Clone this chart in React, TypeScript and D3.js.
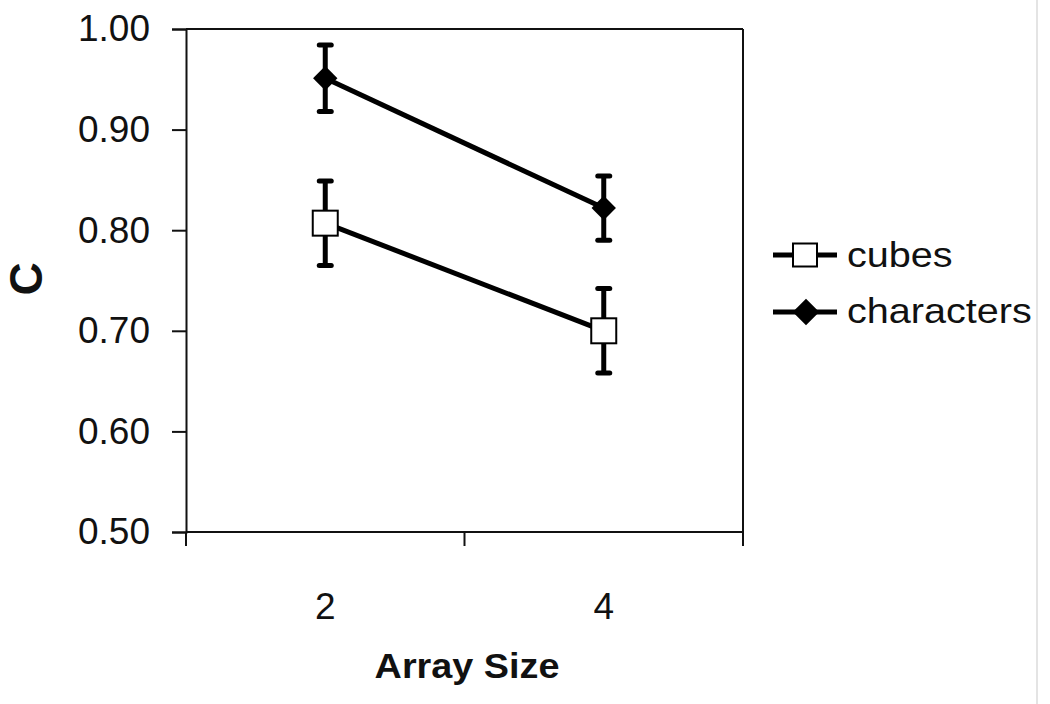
import React, { useEffect, useRef } from 'react';
import * as d3 from 'd3';

// values
const arraySizes = ['2', '4'];
const cubesMean = [0.807, 0.70];
const cubesErr = [0.042, 0.042];
const charsMean = [0.951, 0.822];
const charsErr = [0.033, 0.032];
const yTicks = [0.5, 0.6, 0.7, 0.8, 0.9, 1.0];
const seriesNames = ['cubes', 'characters'];

const FONT = '"Liberation Sans", Arial, sans-serif';

export default function App() {
  const ref = useRef<SVGSVGElement>(null);

  useEffect(() => {
    const svg = d3.select(ref.current);
    svg.selectAll('*').remove();

    const left = 186, right = 743, top = 29, bottom = 532;

    const x = d3.scaleBand().domain(arraySizes).range([left, right]);
    const y = d3.scaleLinear().domain([0.5, 1.0]).range([bottom, top]);

    // faint outer border at the right
    svg.append('line')
      .attr('x1', 1037).attr('x2', 1037).attr('y1', 0).attr('y2', 704)
      .attr('stroke', '#e4e4e4').attr('stroke-width', 2);

    // frame top and right
    svg.append('line')
      .attr('x1', left).attr('x2', right).attr('y1', top).attr('y2', top)
      .attr('stroke', '#111').attr('stroke-width', 2);
    svg.append('line')
      .attr('x1', right).attr('x2', right).attr('y1', top).attr('y2', bottom)
      .attr('stroke', '#111').attr('stroke-width', 2);

    // y axis
    const yAxis = d3.axisLeft(y)
      .tickValues(yTicks)
      .tickSize(14)
      .tickPadding(22)
      .tickFormat(d3.format('.2f'));
    const gy = svg.append('g')
      .attr('transform', 'translate(' + left + ',0)')
      .call(yAxis);
    gy.select('.domain').attr('stroke', '#111').attr('stroke-width', 2);
    gy.selectAll('.tick line').attr('stroke', '#111').attr('stroke-width', 2);
    gy.selectAll('.tick text')
      .attr('font-family', FONT).attr('font-size', 37).attr('fill', '#111');

    // x axis: line plus boundary ticks
    svg.append('line')
      .attr('x1', left).attr('x2', right).attr('y1', bottom).attr('y2', bottom)
      .attr('stroke', '#111').attr('stroke-width', 2);
    const edges = arraySizes.map(d => x(d) as number).concat([right]);
    svg.selectAll('.xtick').data(edges).enter().append('line')
      .attr('x1', d => d).attr('x2', d => d)
      .attr('y1', bottom).attr('y2', bottom + 14)
      .attr('stroke', '#111').attr('stroke-width', 2);
    svg.selectAll('.xlabel').data(arraySizes).enter().append('text')
      .attr('x', d => (x(d) as number) + x.bandwidth() / 2)
      .attr('y', 619)
      .attr('text-anchor', 'middle')
      .attr('font-family', FONT).attr('font-size', 37).attr('fill', '#111')
      .text(d => d);

    // axis titles
    svg.append('text')
      .attr('transform', 'translate(467,678) scale(1.08,1)')
      .attr('text-anchor', 'middle')
      .attr('font-family', FONT).attr('font-size', 35).attr('font-weight', 'bold')
      .attr('fill', '#111')
      .text('Array Size');
    svg.append('text')
      .attr('transform', 'translate(42,279) rotate(-90)')
      .attr('text-anchor', 'middle')
      .attr('font-family', FONT).attr('font-size', 46).attr('font-weight', 'bold')
      .attr('fill', '#111')
      .text('C');

    const cx = (d: string) => (x(d) as number) + x.bandwidth() / 2;

    const drawSeries = (means: number[], errs: number[], marker: string) => {
      const pts = arraySizes.map((d, i) => ({ k: d, m: means[i], e: errs[i] }));
      const line = d3.line<any>().x(p => cx(p.k)).y(p => y(p.m));
      svg.append('path').datum(pts)
        .attr('d', line)
        .attr('fill', 'none').attr('stroke', '#000').attr('stroke-width', 5);

      const g = svg.append('g');
      pts.forEach(p => {
        g.append('line')
          .attr('x1', cx(p.k)).attr('x2', cx(p.k))
          .attr('y1', y(p.m + p.e)).attr('y2', y(p.m - p.e))
          .attr('stroke', '#000').attr('stroke-width', 5);
        [p.m + p.e, p.m - p.e].forEach(v => {
          g.append('line')
            .attr('x1', cx(p.k) - 6).attr('x2', cx(p.k) + 6)
            .attr('y1', y(v)).attr('y2', y(v))
            .attr('stroke', '#000').attr('stroke-width', 5)
            .attr('stroke-linecap', 'round');
        });
      });

      if (marker == 'square') {
        g.selectAll('.sq').data(pts).enter().append('rect')
          .attr('x', p => cx(p.k) - 12.5).attr('y', p => y(p.m) - 12.5)
          .attr('width', 25).attr('height', 25)
          .attr('fill', '#fff').attr('stroke', '#000').attr('stroke-width', 2);
      } else {
        const sym = d3.symbol().type(d3.symbolDiamond2).size(380);
        g.selectAll('.dm').data(pts).enter().append('path')
          .attr('d', sym)
          .attr('transform', p => 'translate(' + cx(p.k) + ',' + y(p.m) + ')')
          .attr('fill', '#000');
      }
    };

    drawSeries(cubesMean, cubesErr, 'square');
    drawSeries(charsMean, charsErr, 'diamond');

    // legend
    const legY = [255, 312];
    seriesNames.forEach((name, i) => {
      const g = svg.append('g').attr('transform', 'translate(0,' + legY[i] + ')');
      g.append('line')
        .attr('x1', 773).attr('x2', 837).attr('y1', 0).attr('y2', 0)
        .attr('stroke', '#000').attr('stroke-width', 5);
      if (i == 0) {
        g.append('rect')
          .attr('x', 793).attr('y', -11.5).attr('width', 24).attr('height', 23)
          .attr('fill', '#fff').attr('stroke', '#000').attr('stroke-width', 2);
      } else {
        g.append('path')
          .attr('d', d3.symbol().type(d3.symbolDiamond2).size(450))
          .attr('transform', 'translate(806,0)')
          .attr('fill', '#000');
      }
      g.append('text')
        .attr('transform', 'translate(847,' + (i == 0 ? 12 : 11) + ') scale(1.1,1)')
        .attr('font-family', FONT).attr('font-size', 36).attr('fill', '#111')
        .text(name);
    });
  }, []);

  return (
    <svg ref={ref} width={1050} height={704}
      style={{ position: 'absolute', left: 0, top: 0, background: '#fff' }} />
  );
}
